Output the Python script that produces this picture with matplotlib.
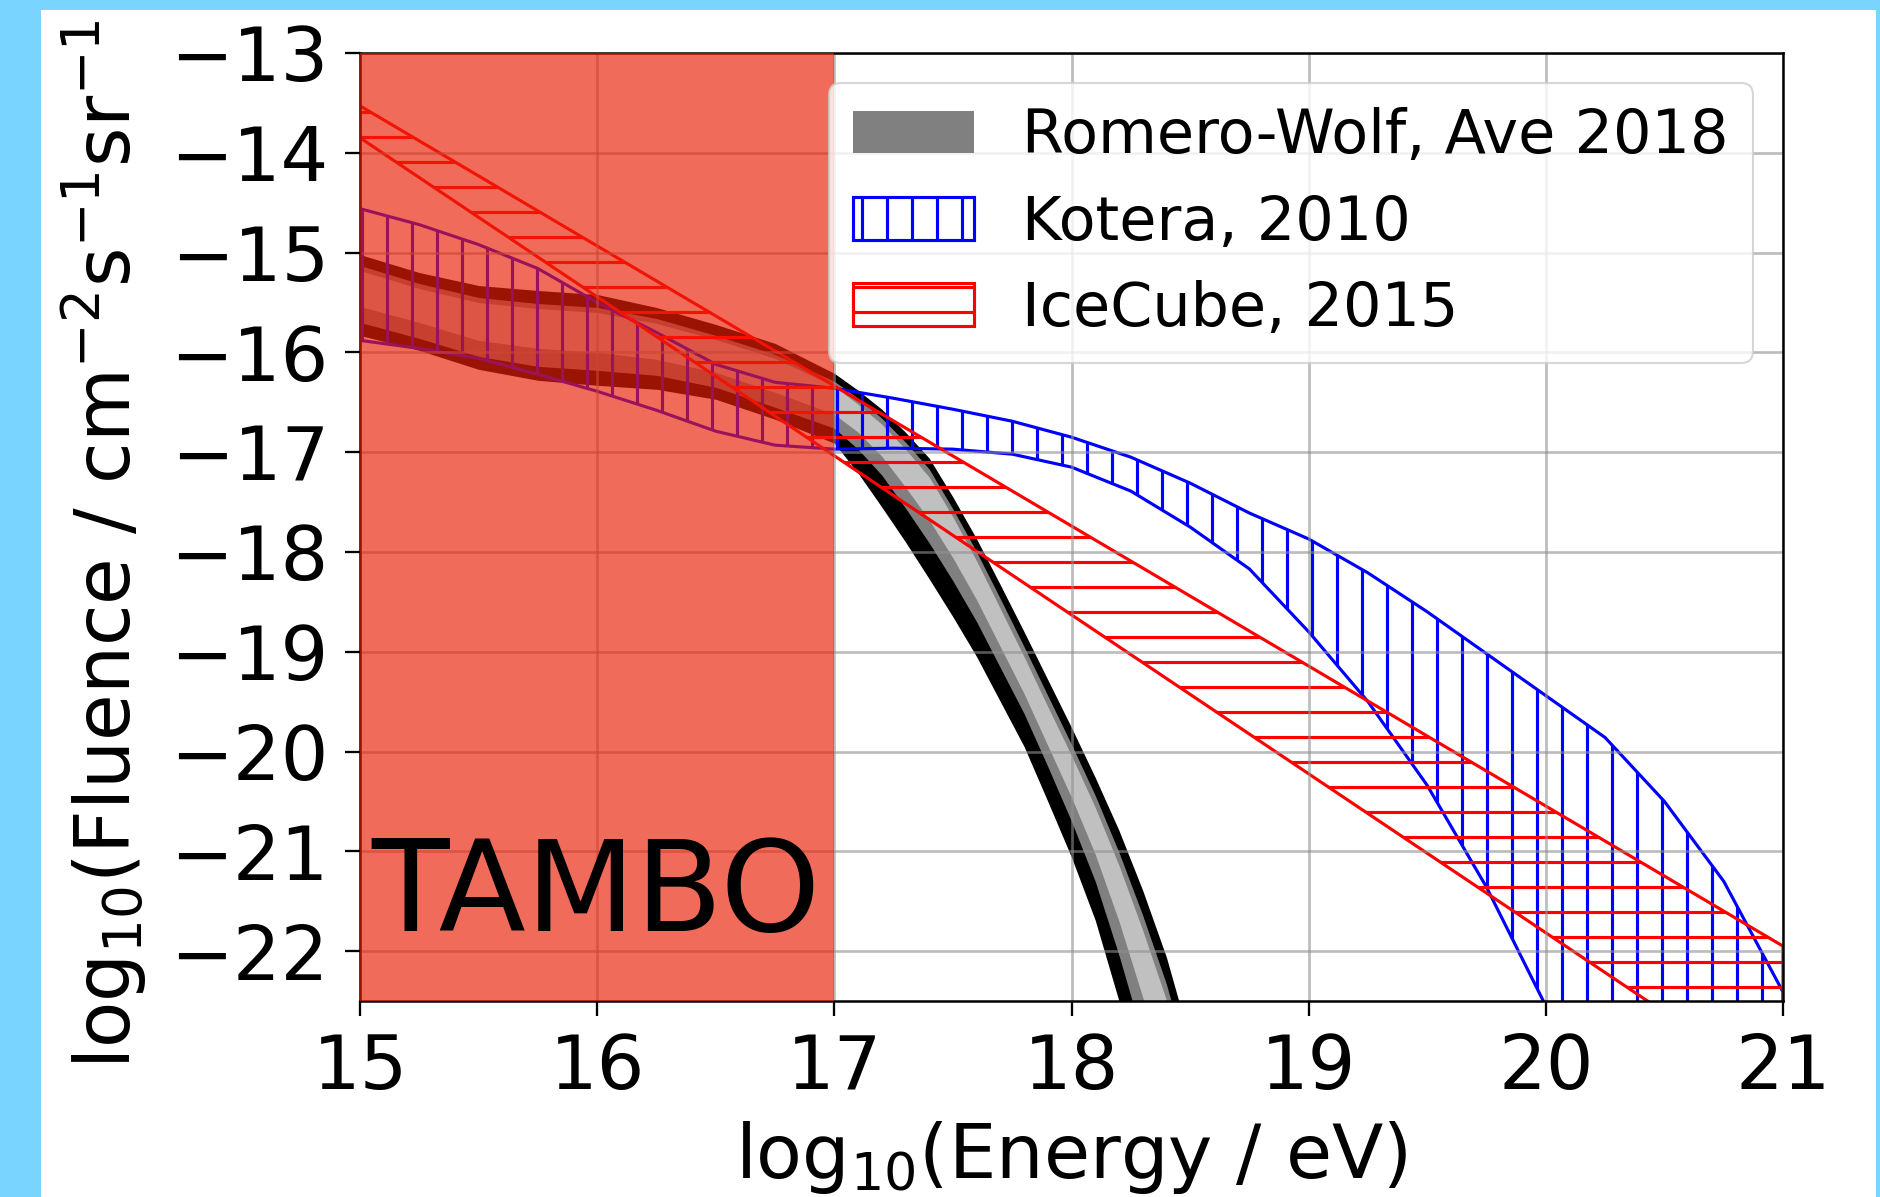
"""Neutrino fluence models vs the TAMBO energy window."""

import matplotlib

matplotlib.use("Agg")
import matplotlib.pyplot as plt
from matplotlib.patches import Rectangle
from matplotlib.transforms import Bbox, TransformedBbox

# Romero-Wolf & Ave 2018: three nested bands (outer / middle / core)
rw_energy = [15.0, 15.25, 15.5, 15.75, 16.0, 16.25, 16.5, 16.75, 17.0, 17.1, 17.2, 17.3, 17.4,
             17.5, 17.6, 17.7, 17.8, 17.9, 18.0, 18.1, 18.2, 18.3, 18.4, 18.5, 18.6]
rw_outer_hi = [-15.02, -15.20, -15.33, -15.38, -15.42, -15.55, -15.72, -15.91, -16.21, -16.38, -16.57,
               -16.80, -17.06, -17.45, -17.87, -18.33, -18.80, -19.28, -19.76, -20.26, -20.79, -21.39,
               -22.06, -22.90, -23.80]
rw_mid_hi = [-15.13, -15.31, -15.45, -15.51, -15.55, -15.66, -15.83, -16.02, -16.29, -16.46, -16.66,
             -16.90, -17.17, -17.57, -18.00, -18.47, -18.95, -19.44, -19.93, -20.44, -21.01, -21.64,
             -22.33, -23.17, -24.06]
rw_core_hi = [-15.18, -15.36, -15.50, -15.56, -15.60, -15.71, -15.87, -16.06, -16.34, -16.52, -16.72,
              -16.97, -17.25, -17.65, -18.09, -18.57, -19.05, -19.55, -20.04, -20.56, -21.14, -21.79,
              -22.49, -23.34, -24.22]
rw_core_lo = [-15.54, -15.70, -15.88, -15.96, -16.00, -16.07, -16.20, -16.40, -16.62, -16.80, -17.04,
              -17.35, -17.68, -18.06, -18.48, -18.95, -19.42, -19.94, -20.46, -21.03, -21.70, -22.46,
              -23.25, -24.12, -24.97]
rw_mid_lo = [-15.70, -15.86, -16.04, -16.14, -16.18, -16.23, -16.35, -16.55, -16.76, -16.97, -17.23,
             -17.56, -17.91, -18.29, -18.70, -19.16, -19.62, -20.15, -20.70, -21.30, -22.04, -22.86,
             -23.70, -24.58, -25.41]
rw_outer_lo = [-15.83, -15.98, -16.17, -16.28, -16.33, -16.37, -16.47, -16.67, -16.91, -17.21, -17.55,
               -17.90, -18.27, -18.65, -19.05, -19.50, -19.95, -20.50, -21.06, -21.69, -22.50, -23.40,
               -24.30, -25.20, -26.00]

# Kotera 2010 band
kotera_energy = [15.0, 15.25, 15.5, 15.75, 16.0, 16.25, 16.5, 16.75, 17.0, 17.25, 17.5, 17.75, 18.0,
                 18.25, 18.5, 18.75, 19.0, 19.25, 19.5, 19.75, 20.0, 20.25, 20.5, 20.75, 21.0]
kotera_hi = [-14.56, -14.72, -14.92, -15.16, -15.50, -15.80, -16.12, -16.30, -16.36, -16.46, -16.57,
             -16.69, -16.85, -17.05, -17.31, -17.61, -17.87, -18.21, -18.60, -19.02, -19.44, -19.86,
             -20.50, -21.30, -22.41]
kotera_lo = [-15.88, -15.96, -16.06, -16.22, -16.39, -16.58, -16.79, -16.93, -16.97, -16.96, -16.97,
             -17.02, -17.15, -17.39, -17.75, -18.17, -18.80, -19.50, -20.34, -21.36, -22.55, -24.0,
             -25.5, -27.0, -28.5]

# IceCube 2015 power-law band
icecube_energy = [15.0, 21.0]
icecube_hi = [-13.53, -21.95]
icecube_lo = [-13.85, -23.41]

tambo_range = (15.0, 17.0)

xticks = [15, 16, 17, 18, 19, 20, 21]
yticks = [-22, -21, -20, -19, -18, -17, -16, -15, -14, -13]

W, H, DPI = 1880, 1197, 150
YLABEL = r"log$_{10}$(Fluence / cm$^{-2}$s$^{-1}$sr$^{-1}$)"

plt.rcParams["hatch.linewidth"] = 1.5

fig = plt.figure(figsize=(W / DPI, H / DPI), dpi=DPI, facecolor="#79d5ff")
fig.add_artist(Rectangle((41 / W, 0), (1876 - 41) / W, (H - 10) / H, transform=fig.transFigure,
                         facecolor="white", edgecolor="none", zorder=-5))
ax = fig.add_axes([360 / W, 1 - 1001 / H, (1783 - 360) / W, (1001 - 53) / H])

ax.fill_between(rw_energy, rw_outer_lo, rw_outer_hi, color="black", lw=0, zorder=1)
ax.fill_between(rw_energy, rw_mid_lo, rw_mid_hi, color="gray", lw=0, zorder=1.05,
                label="Romero-Wolf, Ave 2018")
ax.fill_between(rw_energy, rw_core_lo, rw_core_hi, color="silver", lw=0, zorder=1.1)

ax.fill_between(kotera_energy, kotera_lo, kotera_hi, facecolor="none", edgecolor="blue", hatch="|",
                lw=1.5, zorder=1.2, label="Kotera, 2010")
ax.fill_between(icecube_energy, icecube_lo, icecube_hi, facecolor="none", edgecolor="red", hatch="-",
                lw=1.5, zorder=1.3, label="IceCube, 2015")

ax.grid(True, color="#909090", alpha=0.6, lw=1.3)

ax.axvspan(*tambo_range, color="#eb1e05", alpha=0.66, lw=0, zorder=3)
ax.text(15.05, -21.8, "TAMBO", fontsize=61, color="black", zorder=4)

ax.set_xlim(15, 21)
ax.set_ylim(-22.5, -13)
ax.set_xticks(xticks)
ax.set_yticks(yticks)
ax.tick_params(labelsize=36, length=7, width=1.1, pad=8)
for sp in ax.spines.values():
    sp.set_linewidth(1.2)

ax.set_xlabel(r"log$_{10}$(Energy / eV)", fontsize=36)
ax.xaxis.set_label_coords(0.5, -0.125)

# y label: the source picture is cut just above "sr^-1", so the closing
# bracket falls outside; size it so the visible part spans ~1050 px
renderer = fig.canvas.get_renderer()
probe = fig.text(0, 0, YLABEL[:-1], fontsize=36, rotation=90)
ylab_fs = 36 * 1050 / probe.get_window_extent(renderer).height
probe.remove()
ax.set_ylabel(YLABEL, fontsize=ylab_fs, ha="left")
ax.yaxis.set_label_coords(-0.148, (1001 - 1069) / (1001 - 53))
ax.yaxis.label.set_clip_box(TransformedBbox(Bbox.from_extents(0, 0, 1, 1 - 10 / H), fig.transFigure))

ax.legend(loc="upper right", fontsize=29, labelspacing=0.45)

fig.savefig("out.png", dpi=DPI, facecolor=fig.get_facecolor())
